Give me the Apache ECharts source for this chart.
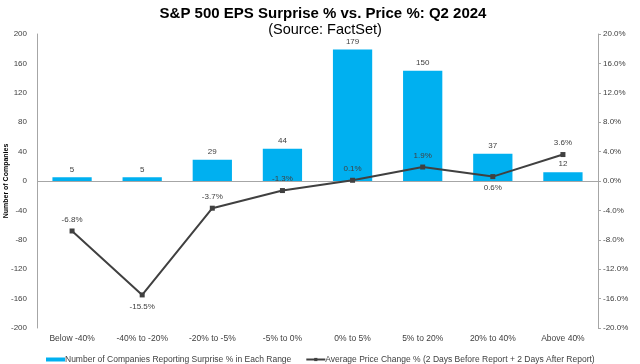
<!DOCTYPE html>
<html><head><meta charset="utf-8">
<script src="https://cdn.jsdelivr.net/npm/echarts@6/dist/echarts.min.js"></script>
<style>html,body{margin:0;padding:0;background:#fff}#c{width:640px;height:364px}</style>
</head><body><div id="c"></div>
<script>
const categories = ['Below -40%','-40% to -20%','-20% to -5%','-5% to 0%','0% to 5%','5% to 20%','20% to 40%','Above 40%'];
const companyCounts = [5,5,29,44,179,150,37,12];
const avgPriceChange = [-6.8,-15.5,-3.7,-1.3,0.1,1.9,0.6,3.6];
const leftTicks = {min:-200,max:200,interval:40};
const rightTicks = {min:-20,max:20,interval:4};
const labelBelow = [false,true,false,false,false,false,true,false];

const FONT = '"Liberation Sans", Arial, sans-serif';
const chart = echarts.init(document.getElementById('c'));
chart.setOption({
  animation:false,
  textStyle:{fontFamily:FONT},
  title:[
    {text:'S&P 500 EPS Surprise % vs. Price %: Q2 2024',left:318,textAlign:'center',top:1,textStyle:{fontSize:15,fontWeight:'bold',color:'#000',fontFamily:FONT}},
    {text:'(Source: FactSet)',left:320,textAlign:'center',top:17,textStyle:{fontSize:14.5,fontWeight:'normal',color:'#000',fontFamily:FONT}}
  ],
  grid:{left:37,right:42,top:34,bottom:36,containLabel:false,outerBoundsMode:'none'},
  legend:{left:41,top:350,itemGap:14,itemWidth:19,itemHeight:4,textStyle:{fontSize:8.5,color:'#404040',fontFamily:FONT,padding:[0,0,0,-5]},
    data:[{name:'Number of Companies Reporting Surprise % in Each Range',icon:'rect'},{name:'Average Price Change % (2 Days Before Report + 2 Days After Report)'}]},
  xAxis:{type:'category',data:categories,axisLine:{show:false},axisTick:{show:false},
    axisLabel:{fontSize:8.5,color:'#404040',margin:6,interval:0}},
  yAxis:[
    {type:'value',min:leftTicks.min,max:leftTicks.max,interval:leftTicks.interval,
     name:'Number of Companies',nameLocation:'middle',nameGap:27,nameRotate:90,nameMoveOverlap:false,
     nameTextStyle:{fontSize:7,color:'#000',fontWeight:'bold'},
     axisLine:{show:true,lineStyle:{color:'#a6a6a6'}},axisTick:{show:false},splitLine:{show:false},
     axisLabel:{fontSize:8,color:'#404040',margin:10}},
    {type:'value',min:rightTicks.min,max:rightTicks.max,interval:rightTicks.interval,position:'right',
     axisLine:{show:true,lineStyle:{color:'#a6a6a6'}},axisTick:{show:true,inside:false,length:3,lineStyle:{color:'#a6a6a6'}},splitLine:{show:false},
     axisLabel:{fontSize:8,color:'#404040',margin:5,formatter:v=>v.toFixed(1)+'%'}}
  ],
  series:[
    {name:'Number of Companies Reporting Surprise % in Each Range',type:'bar',data:companyCounts,barWidth:'56%',
     itemStyle:{color:'#00B0F0'},
     label:{show:true,position:'top',fontSize:8,color:'#404040',distance:4},
     markLine:{silent:true,symbol:'none',label:{show:false},lineStyle:{color:'#a6a6a6',type:'solid',width:1},data:[{yAxis:0}]}},
    {name:'Average Price Change % (2 Days Before Report + 2 Days After Report)',type:'line',yAxisIndex:1,
     data:avgPriceChange.map((v,i)=>({value:v,label:{position:labelBelow[i]?'bottom':'top'}})),
     symbol:'rect',symbolSize:5,itemStyle:{color:'#404040'},lineStyle:{color:'#404040',width:2},
     label:{show:true,fontSize:8,color:'#404040',distance:5,formatter:p=>p.value.toFixed(1)+'%'},z:5}
  ]
});
</script></body></html>
